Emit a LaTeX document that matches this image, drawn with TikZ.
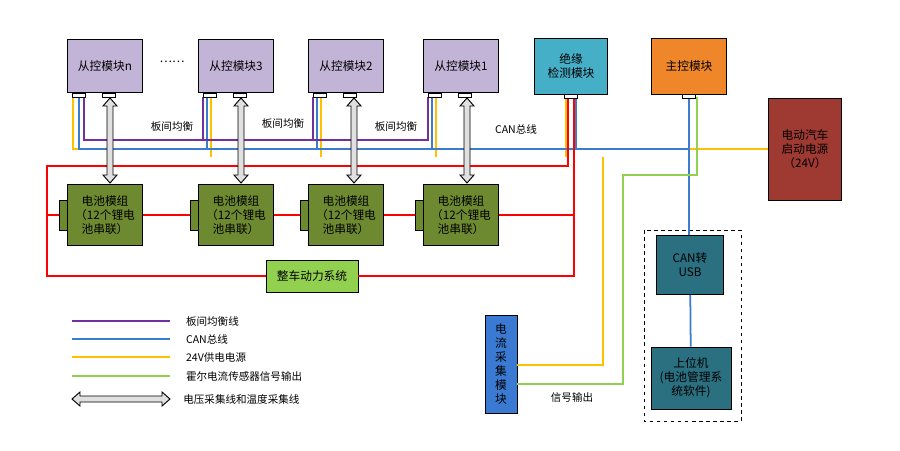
\documentclass[tikz,border=0pt]{standalone}
\usepackage{fontspec}
\setmainfont{Noto Sans CJK SC}
\usepackage{tikz}
\usetikzlibrary{positioning,calc}
\definecolor{slavec}{HTML}{C2B4D6}
\definecolor{battc}{HTML}{6E8A30}
\definecolor{insc}{HTML}{46AFC8}
\definecolor{masterc}{HTML}{F0862A}
\definecolor{evc}{HTML}{9E3A32}
\definecolor{curc}{HTML}{3A7AD2}
\definecolor{usbc}{HTML}{2A7080}
\definecolor{sysc}{HTML}{92D050}
\definecolor{canc}{HTML}{3A7CD0}
\definecolor{pwrc}{HTML}{FFC000}
\definecolor{balc}{HTML}{7030A0}
\definecolor{hallc}{HTML}{92D050}
\tikzset{
  box/.style={draw=black, thick, align=center, inner sep=1pt, font=\fontsize{10}{12}\selectfont},
  slave/.style={box, fill=slavec, minimum width=2.25cm, minimum height=1.6cm},
  batt/.style={box, fill=battc, minimum width=2.25cm, minimum height=1.83cm},
  plug/.style={draw=black, thick, fill=white, minimum width=0.38cm, minimum height=0.12cm, inner sep=0pt},
  tab/.style={draw=black, fill=battc, minimum width=0.22cm, minimum height=0.9cm, inner sep=0pt},
  bal/.style={balc, line width=1.5pt},
  can/.style={canc, line width=1.5pt},
  pwr/.style={pwrc, line width=1.5pt},
  hall/.style={hallc, line width=1.5pt},
  hv/.style={red, line width=2.5pt},
  lbl/.style={text=black, font=\fontsize{9}{11}\selectfont, inner sep=1pt},
}
% double arrow (x, y1, y2)
\newcommand\dblarrow[3]{%
  \filldraw[draw=black, thick, fill=black!12]
    (#1,#2) -- ++(7,8) -- ++(-4,0) -- ($(#1,#3)+(3,-8)$) -- ++(4,0)
    -- (#1,#3) -- ++(-7,-8) -- ++(4,0) -- ($(#1,#2)+(-3,8)$) -- ++(-4,0) -- cycle;}
\begin{document}
\begin{tikzpicture}[x=0.03cm, y=-0.03cm]
\useasboundingbox (0,0) rectangle (900,450);

%slave modules and battery modules
\foreach \x/\name/\lab in {105/n/n, 236/3/3, 346/2/2, 461/1/1} {
  \node[slave] (S\name) at (\x,66) {从控模块\lab};
  \node[batt] (B\name) at (\x,215) {电池模组\\（12个锂电\\池串联）};
  \node[tab, anchor=east] (T\name) at (B\name.west) {};
  \node[plug] (L\name) at ($(S\name.south west)+(12,2)$) {};
  \node[plug] (R\name) at ($(S\name.south west)+(42,2)$) {};
}
\node at (172,62) {……};

\node[box, fill=insc, minimum width=2.2cm, minimum height=1.68cm] (INS) at (571,66) {绝缘\\检测模块};
\node[box, fill=masterc, minimum width=2.25cm, minimum height=1.68cm] (MST) at (689,66) {主控模块};
\node[box, fill=evc, minimum width=2.2cm, minimum height=3.06cm] (EV) at (805,149) {电动汽车\\启动电源\\（24V）};
\node[plug] (PI) at ($(INS.south)+(0,2)$) {};
\node[plug] (PM) at ($(MST.south)+(0,2)$) {};
\node[box, fill=sysc, minimum width=2.76cm, minimum height=0.96cm] (SYS) at (312,276) {整车动力系统};
\node[box, fill=curc, minimum width=0.96cm, minimum height=2.94cm, text width=0.5cm] (CUR) at (501,364) {电\\流\\采\\集\\模\\块};
\node[box, fill=usbc, minimum width=2.0cm, minimum height=1.77cm] (USB) at (690,265) {CAN转\\USB};
\node[box, fill=usbc, minimum width=2.4cm, minimum height=1.86cm] (PC) at (691,378) {上位机\\(电池管理系\\统软件)};
\draw[thick, dashed] (644,230) rectangle (741,421);

%bus lines
\draw[pwr] (73,97) |- (EV.west);
\foreach \x in {203,313,428} \draw[pwr] (\x+8,97) -- (\x+8,157);
\draw[pwr] (566,97) -- (566,157);
\draw[pwr] (603,157) |- (CUR.east |- 0,365);
\draw[can] (79,97) |- (689,149);
\foreach \x in {203,313,428} \draw[can] (\x+4,97) -- (\x+4,149);
\draw[can] (576,97) -- (576,149);
\draw[can] (PM.south -| 689,0) -- (USB.north -| 689,0);
\draw[can] (USB) -- (PC);
\draw[hall] (697,97) |- (623,175) |- (CUR.east |- 0,384);
\draw[bal] (84,97) |- (203,140) -- (203,97);
\draw[bal] (203,140) -| (313,97);
\draw[bal] (313,140) -| (428,97);
\draw[hv] (568,97) |- (47,166) |- (SYS.west);
\draw[hv] (SYS.east) -| (574,97);
\draw[hv] (47,215) -- (Tn.west);
\draw[hv] (Bn.east) -- (T3.west);
\draw[hv] (B3.east) -- (T2.west);
\draw[hv] (B2.east) -- (T1.west);
\draw[hv] (B1.east) -- (574,215);
\foreach \name in {n,3,2,1} \node[plug] at (L\name) {};
\node[plug] at (PI) {};
\node[plug] at (PM) {};

%sampling arrows
\foreach \x in {110,241,354,467} \dblarrow{\x}{98}{183};

%labels
\node[lbl] at (172,127) {板间均衡};
\node[lbl] at (283,124) {板间均衡};
\node[lbl] at (396,127) {板间均衡};
\node[lbl] at (516,129) {CAN总线};
\node[lbl] at (572,397) {信号输出};

%legend
\draw[bal] (72,321) -- (170,321) node[lbl, right=12pt] {板间均衡线};
\draw[can] (72,339) -- (170,339) node[lbl, right=12pt] {CAN总线};
\draw[pwr] (72,357) -- (170,357) node[lbl, right=12pt] {24V供电电源};
\draw[hall] (72,376) -- (170,376) node[lbl, right=12pt] {霍尔电流传感器信号输出};
\filldraw[draw=black, thick, fill=black!12]
  (72,399) -- ++(8,-7) -- ++(0,4) -- (162,396) -- ++(0,-4) -- (170,399)
  -- ++(-8,7) -- ++(0,-4) -- (80,402) -- ++(0,4) -- cycle;
\node[lbl, anchor=west] at (182,399) {电压采集线和温度采集线};
\end{tikzpicture}
\end{document}
